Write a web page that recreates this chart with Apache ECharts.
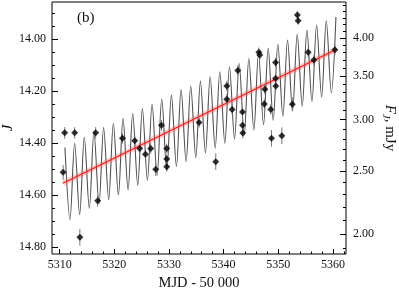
<!DOCTYPE html>
<html><head><meta charset="utf-8">
<script src="https://cdn.jsdelivr.net/npm/echarts@6/dist/echarts.min.js"></script>
<style>html,body{margin:0;padding:0;background:#fff}#c{width:399px;height:299px}</style>
</head><body><div id="c"></div>
<script>
// Observed photometry (MJD-50000, J mag, error)
const obsMjd = [5310.64, 5310.92, 5312.75, 5313.70, 5316.59, 5316.96, 5321.50, 5323.74, 5324.65, 5325.70,
  5326.67, 5327.58, 5328.63, 5329.60, 5329.60, 5329.60, 5335.51, 5338.57, 5340.59, 5340.59,
  5341.56, 5342.60, 5343.46, 5343.46, 5343.52, 5346.45, 5346.63, 5347.55, 5347.45, 5348.64,
  5348.77, 5349.51, 5349.51, 5349.56, 5350.66, 5352.58, 5353.50, 5353.64, 5355.48, 5356.52, 5360.37];
const obsJ = [14.513, 14.361, 14.361, 14.763, 14.361, 14.622, 14.382, 14.391, 14.421, 14.443,
  14.421, 14.501, 14.332, 14.421, 14.462, 14.491, 14.321, 14.472, 14.181, 14.232,
  14.271, 14.121, 14.281, 14.332, 14.362, 14.051, 14.062, 14.193, 14.250, 14.271,
  14.382, 14.090, 14.152, 14.181, 14.372, 14.251, 13.908, 13.930, 14.051, 14.081, 14.041];
const obsErr = [0.028, 0.022, 0.022, 0.032, 0.022, 0.023, 0.02, 0.02, 0.02, 0.02,
  0.02, 0.025, 0.02, 0.018, 0.018, 0.018, 0.02, 0.032, 0.02, 0.02,
  0.02, 0.02, 0.02, 0.02, 0.02, 0.018, 0.018, 0.02, 0.02, 0.02,
  0.032, 0.018, 0.018, 0.018, 0.032, 0.026, 0.015, 0.015, 0.02, 0.02, 0.02];

// Model curve extrema
const peakMjd = [5310.97, 5312.74, 5314.51, 5316.28, 5318.05, 5319.83, 5321.60, 5323.37, 5325.14, 5326.91,
  5328.68, 5330.45, 5332.22, 5333.99, 5335.76, 5337.54, 5339.31, 5341.08, 5342.85, 5344.62,
  5346.39, 5348.16, 5349.93, 5351.70, 5353.47, 5355.25, 5357.02, 5358.79, 5360.56];
const peakJ = [14.417, 14.401, 14.378, 14.357, 14.341, 14.325, 14.305, 14.287, 14.268, 14.250,
  14.231, 14.216, 14.194, 14.181, 14.162, 14.145, 14.126, 14.107, 14.094, 14.075,
  14.055, 14.036, 14.020, 14.004, 13.982, 13.966, 13.946, 13.930, 13.915];
const troughMjd = [5311.89, 5313.66, 5315.43, 5317.20, 5318.97, 5320.75, 5322.52, 5324.29, 5326.06, 5327.83,
  5329.60, 5331.37, 5333.14, 5334.91, 5336.68, 5338.46, 5340.23, 5342.00, 5343.77, 5345.54,
  5347.31, 5349.08, 5350.85, 5352.62, 5354.39, 5356.17, 5357.94, 5359.71];
const troughJ = [14.694, 14.675, 14.652, 14.634, 14.618, 14.600, 14.581, 14.562, 14.544, 14.525,
  14.508, 14.490, 14.472, 14.456, 14.438, 14.420, 14.401, 14.385, 14.369, 14.350,
  14.330, 14.313, 14.297, 14.278, 14.259, 14.241, 14.223, 14.207];

// Linear trend
const trendMjd = [5310.6, 5360.4];
const trendJ = [14.555, 14.042];

// Tick labels
const xTicks = [5310, 5320, 5330, 5340, 5350, 5360];
const xMinorTicks = [5310, 5312, 5314, 5316, 5318, 5320, 5322, 5324, 5326, 5328, 5330, 5332, 5334, 5336, 5338,
  5340, 5342, 5344, 5346, 5348, 5350, 5352, 5354, 5356, 5358, 5360, 5362];
const jTicks = [14.0, 14.2, 14.4, 14.6, 14.8];
const jMinorTicks = [13.9, 13.95, 14.0, 14.05, 14.1, 14.15, 14.2, 14.25, 14.3, 14.35, 14.4, 14.45, 14.5,
  14.55, 14.6, 14.65, 14.7, 14.75, 14.8];
const fluxTicks = [2.00, 2.50, 3.00, 3.50, 4.00];
const fluxMinorTicks = [1.9, 2.0, 2.1, 2.2, 2.3, 2.4, 2.5, 2.6, 2.7, 2.8, 2.9, 3.0, 3.1, 3.2, 3.3, 3.4, 3.5,
  3.6, 3.7, 3.8, 3.9, 4.0, 4.1, 4.2, 4.3, 4.4, 4.5];

const FONT = "'Liberation Serif','DejaVu Serif',serif";
const F0 = 1588000; // mJy zero point
const magOf = f => 2.5 * Math.log10(F0 / f);
const fluxOf = m => F0 * Math.pow(10, -0.4 * m);
const J_MIN = 13.8577, J_MAX = 14.827, X_MIN = 5308.6, X_MAX = 5362.4;

const model = [];
for (let i = 0; i < peakMjd.length; i++) {
  model.push([peakMjd[i], peakJ[i]]);
  if (i < troughMjd.length) model.push([troughMjd[i], troughJ[i]]);
}
const trend = trendMjd.map((x, i) => [x, trendJ[i]]);
const pts = obsMjd.map((x, i) => [x, obsJ[i]]);
const errs = obsMjd.map((x, i) => [x, obsJ[i] - obsErr[i], obsJ[i] + obsErr[i]]);

const labelStyle = {fontFamily: FONT, fontSize: 12, color: '#111'};
const chart = echarts.init(document.getElementById('c'), null, {renderer: 'canvas'});
chart.setOption({
  animation: false,
  backgroundColor: '#fff',
  grid: {left: 52, top: 2, width: 294, height: 252, show: true, borderColor: '#000', borderWidth: 1,
    containLabel: false, outerBoundsMode: 'none'},
  graphic: [{type: 'text', left: 77, top: 11, style: {text: '(b)', font: '15px ' + FONT, fill: '#111'}}],
  xAxis: [
    {type: 'value', min: X_MIN, max: X_MAX, position: 'bottom', splitLine: {show: false},
      axisLine: {show: false, onZero: false},
      axisTick: {show: true, inside: true, length: 5, customValues: xTicks, lineStyle: {color: '#000'}},
      axisLabel: Object.assign({margin: 5, customValues: xTicks, formatter: v => String(Math.round(v))}, labelStyle),
      name: 'MJD - 50 000', nameLocation: 'middle', nameGap: 22, nameMoveOverlap: false,
      nameTextStyle: {fontFamily: FONT, fontSize: 14.5, color: '#111'}},
    {type: 'value', min: X_MIN, max: X_MAX, position: 'bottom', splitLine: {show: false},
      axisLine: {show: false, onZero: false},
      axisTick: {show: true, inside: true, length: 2.5, customValues: xMinorTicks, lineStyle: {color: '#000'}},
      axisLabel: {show: false}}
  ],
  yAxis: [
    {type: 'value', min: J_MIN, max: J_MAX, inverse: true, position: 'left', splitLine: {show: false},
      axisLine: {show: false, onZero: false},
      axisTick: {show: true, inside: true, length: 6, customValues: jTicks, lineStyle: {color: '#000'}},
      axisLabel: Object.assign({margin: 6, customValues: jTicks, formatter: v => v.toFixed(2)}, labelStyle),
      name: 'J', nameLocation: 'middle', nameGap: 36, nameRotate: 90, nameMoveOverlap: false,
      nameTextStyle: {fontFamily: FONT, fontSize: 15, fontStyle: 'italic', color: '#111'}},
    {type: 'value', min: J_MIN, max: J_MAX, inverse: true, position: 'left', splitLine: {show: false},
      axisLine: {show: false, onZero: false},
      axisTick: {show: true, inside: true, length: 3, customValues: jMinorTicks, lineStyle: {color: '#000'}},
      axisLabel: {show: false}},
    {type: 'value', min: J_MIN, max: J_MAX, inverse: true, position: 'right', splitLine: {show: false},
      axisLine: {show: false, onZero: false},
      axisTick: {show: true, inside: true, length: 6, customValues: fluxTicks.map(magOf), lineStyle: {color: '#000'}},
      axisLabel: Object.assign({margin: 7, customValues: fluxTicks.map(magOf), formatter: v => fluxOf(v).toFixed(2)}, labelStyle),
      name: '{i|F}{s|J}{n|, mJy}', nameLocation: 'middle', nameGap: 34, nameRotate: -90, nameMoveOverlap: false,
      nameTextStyle: {fontFamily: FONT, fontSize: 15, color: '#111',
        rich: {i: {fontFamily: FONT, fontSize: 15, fontStyle: 'italic', lineHeight: 19},
               s: {fontFamily: FONT, fontSize: 10.5, fontStyle: 'italic', verticalAlign: 'bottom', lineHeight: 10},
               n: {fontFamily: FONT, fontSize: 15, lineHeight: 19}}}},
    {type: 'value', min: J_MIN, max: J_MAX, inverse: true, position: 'right', splitLine: {show: false},
      axisLine: {show: false, onZero: false},
      axisTick: {show: true, inside: true, length: 3, customValues: fluxMinorTicks.map(magOf).filter(m => m > J_MIN && m < J_MAX), lineStyle: {color: '#000'}},
      axisLabel: {show: false}}
  ],
  series: [
    {type: 'line', data: model, xAxisIndex: 0, yAxisIndex: 0, smooth: 0.33, showSymbol: false,
      lineStyle: {color: '#505050', width: 1.1}, z: 2, silent: true},
    {type: 'line', data: trend, xAxisIndex: 0, yAxisIndex: 0, showSymbol: false,
      lineStyle: {color: 'rgba(255,80,80,0.3)', width: 5}, z: 3, silent: true},
    {type: 'line', data: trend, xAxisIndex: 0, yAxisIndex: 0, showSymbol: false,
      lineStyle: {color: '#ff1a1a', width: 1.2}, z: 4, silent: true},
    {type: 'custom', data: errs, xAxisIndex: 0, yAxisIndex: 0, z: 5, silent: true,
      encode: {x: 0, y: [1, 2]},
      renderItem: (params, api) => {
        const a = api.coord([api.value(0), api.value(1)]);
        const b = api.coord([api.value(0), api.value(2)]);
        return {type: 'line', shape: {x1: a[0], y1: a[1], x2: b[0], y2: b[1]},
          style: {stroke: '#777', lineWidth: 1}};
      }},
    {type: 'scatter', data: pts, xAxisIndex: 0, yAxisIndex: 0, symbol: 'diamond', symbolSize: 7,
      itemStyle: {color: '#000'}, z: 6, silent: true}
  ]
});
</script>
</body></html>
